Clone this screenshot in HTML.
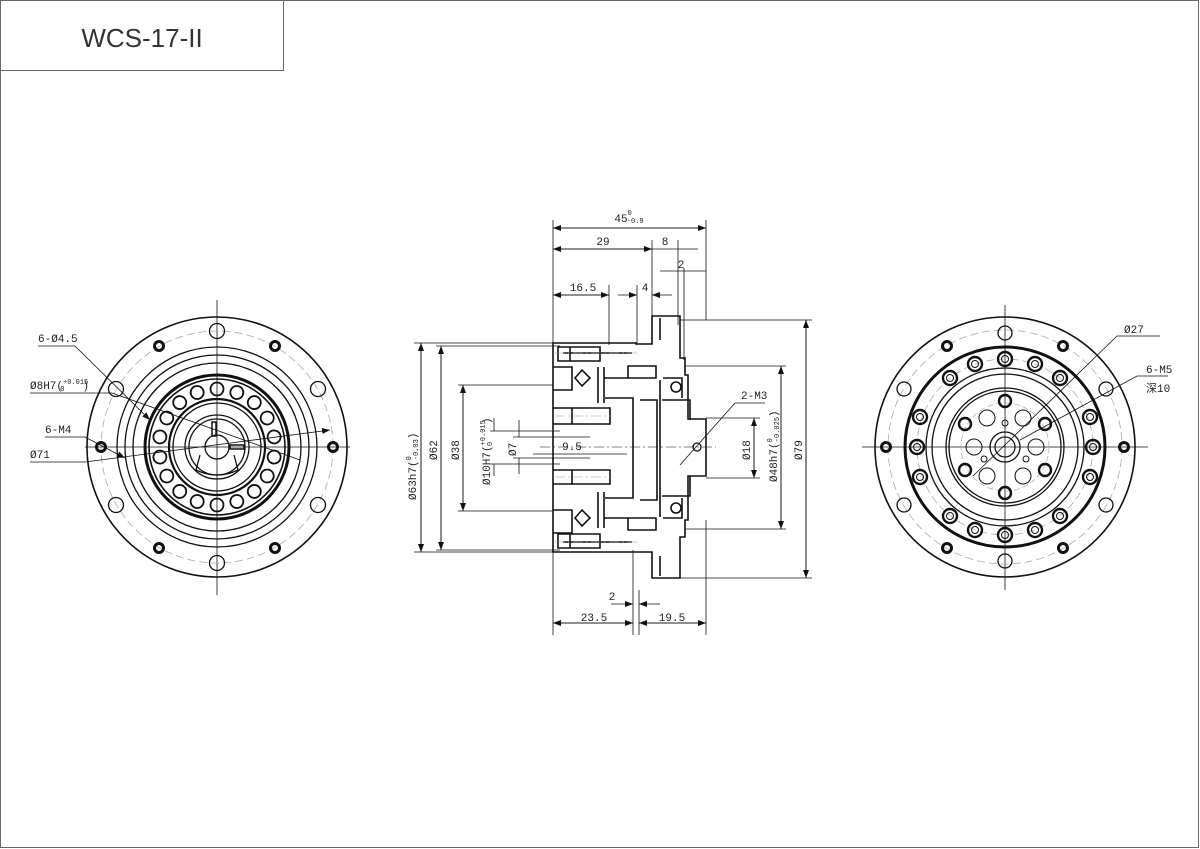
<!DOCTYPE html>
<html><head><meta charset="utf-8"><style>
html,body{margin:0;padding:0;background:#fff;}
svg{display:block;}
text{font-family:"Liberation Mono","Noto Sans CJK SC",monospace;font-size:11px;fill:#222;}
</style></head><body>
<svg width="1200" height="849" viewBox="0 0 1200 849" xmlns="http://www.w3.org/2000/svg">
<rect x="0.5" y="0.5" width="1198" height="847" fill="#fff" stroke="#666" stroke-width="1"/>
<path d="M0.5 70.5 H283.5 V0.5" fill="none" stroke="#666"/>
<text x="142" y="47" text-anchor="middle" style="font-family:'Liberation Sans',sans-serif;font-size:26px;fill:#333">WCS-17-II</text>

<defs>
<marker id="ar" markerWidth="8" markerHeight="6" refX="8" refY="3" orient="auto" markerUnits="userSpaceOnUse"><path d="M0 0 L8 3 L0 6z" fill="#111"/></marker>
</defs>

<!-- LEFT VIEW -->
<g stroke="#111" fill="none" stroke-width="1.3">
<line x1="217" y1="300" x2="217" y2="595" stroke-width="0.8"/>
<line x1="85" y1="447" x2="350" y2="447" stroke-width="0.8"/>
<circle cx="217" cy="447" r="130" stroke-width="1.6"/>
<circle cx="217" cy="447" r="116" stroke="#aaa" stroke-dasharray="8 4" stroke-width="0.8"/>
<circle cx="217" cy="447" r="100"/>
<circle cx="217" cy="447" r="92"/>
<circle cx="217" cy="447" r="84"/>
<circle cx="217" cy="447" r="72" stroke-width="3"/>
<circle cx="217" cy="447" r="68" stroke-width="1.6"/>
<circle cx="217" cy="447" r="48" stroke-width="2.2"/>
<circle cx="217" cy="447" r="44"/>
<circle cx="217" cy="447" r="32"/>
<circle cx="217" cy="447" r="28"/>
<circle cx="217" cy="447" r="12"/>
<g stroke-width="1.8">
<circle cx="217" cy="389" r="6.5"/>
<circle cx="217" cy="389" r="6.5" transform="rotate(20 217 447)"/><circle cx="217" cy="389" r="6.5" transform="rotate(40 217 447)"/><circle cx="217" cy="389" r="6.5" transform="rotate(60 217 447)"/><circle cx="217" cy="389" r="6.5" transform="rotate(80 217 447)"/><circle cx="217" cy="389" r="6.5" transform="rotate(100 217 447)"/><circle cx="217" cy="389" r="6.5" transform="rotate(120 217 447)"/><circle cx="217" cy="389" r="6.5" transform="rotate(140 217 447)"/><circle cx="217" cy="389" r="6.5" transform="rotate(160 217 447)"/><circle cx="217" cy="389" r="6.5" transform="rotate(180 217 447)"/><circle cx="217" cy="389" r="6.5" transform="rotate(200 217 447)"/><circle cx="217" cy="389" r="6.5" transform="rotate(220 217 447)"/><circle cx="217" cy="389" r="6.5" transform="rotate(240 217 447)"/><circle cx="217" cy="389" r="6.5" transform="rotate(260 217 447)"/><circle cx="217" cy="389" r="6.5" transform="rotate(280 217 447)"/><circle cx="217" cy="389" r="6.5" transform="rotate(300 217 447)"/><circle cx="217" cy="389" r="6.5" transform="rotate(320 217 447)"/><circle cx="217" cy="389" r="6.5" transform="rotate(340 217 447)"/>
</g>
<circle cx="217" cy="331" r="7.5"/><circle cx="217" cy="563" r="7.5"/>
<circle cx="116" cy="389" r="7.5"/><circle cx="318" cy="389" r="7.5"/>
<circle cx="116" cy="505" r="7.5"/><circle cx="318" cy="505" r="7.5"/>
<g stroke-width="3"><circle cx="159" cy="346" r="4.5"/><circle cx="275" cy="346" r="4.5"/><circle cx="159" cy="548" r="4.5"/><circle cx="275" cy="548" r="4.5"/><circle cx="101" cy="447" r="4.5"/><circle cx="333" cy="447" r="4.5"/></g>
<path d="M200 455 L196 470 Q217 480 238 470 L234 455" />
<rect x="212" y="422" width="4" height="14" stroke-width="1.5"/><rect x="230" y="445" width="14" height="4" stroke-width="1.5"/>
</g>
<g stroke="#111" stroke-width="0.8" fill="none">
<path d="M38 346 H75 L150 420" marker-end="url(#ar)"/>
<path d="M30 393 H112 L300 460"/>
<path d="M45 437 H85 L125 458" marker-end="url(#ar)"/>
<path d="M30 462 H85 L330 430" marker-end="url(#ar)"/>
</g>
<text x="38" y="342">6-Ø4.5</text>
<text x="30" y="389">Ø8H7(<tspan font-size="7" dy="-5">+0.015</tspan><tspan font-size="7" dx="-28" dy="7">0</tspan><tspan dy="-2" dx="18">)</tspan></text>
<text x="45" y="433">6-M4</text>
<text x="30" y="458">Ø71</text>

<!-- MIDDLE VIEW -->
<g stroke="#111" fill="none" stroke-width="0.8">
<line x1="553" y1="220" x2="553" y2="635"/><line x1="706" y1="220" x2="706" y2="320"/><line x1="706" y1="520" x2="706" y2="635"/>
<line x1="652" y1="240" x2="652" y2="320"/><line x1="678" y1="240" x2="678" y2="325"/><line x1="684" y1="268" x2="684" y2="360"/>
<line x1="609" y1="285" x2="609" y2="345"/><line x1="637" y1="285" x2="637" y2="345"/>
<line x1="633" y1="550" x2="633" y2="635"/><line x1="639" y1="590" x2="639" y2="635"/>
<line x1="553" y1="228" x2="706" y2="228" marker-end="url(#ar)"/><line x1="706" y1="228" x2="553" y2="228" marker-end="url(#ar)"/>
<line x1="553" y1="249" x2="652" y2="249" marker-end="url(#ar)"/><line x1="652" y1="249" x2="553" y2="249" marker-end="url(#ar)"/>
<line x1="652" y1="249" x2="698" y2="249"/><line x1="660" y1="271" x2="684" y2="271"/><line x1="684" y1="271" x2="706" y2="271" />
<line x1="553" y1="295" x2="609" y2="295" marker-end="url(#ar)"/><line x1="609" y1="295" x2="553" y2="295" marker-end="url(#ar)"/>
<line x1="618" y1="295" x2="637" y2="295" marker-end="url(#ar)"/><line x1="672" y1="295" x2="652" y2="295" marker-end="url(#ar)"/>
<line x1="553" y1="623" x2="633" y2="623" marker-end="url(#ar)"/><line x1="633" y1="623" x2="553" y2="623" marker-end="url(#ar)"/>
<line x1="639" y1="623" x2="706" y2="623" marker-end="url(#ar)"/><line x1="706" y1="623" x2="639" y2="623" marker-end="url(#ar)"/>
<line x1="611" y1="604" x2="633" y2="604" marker-end="url(#ar)"/><line x1="660" y1="604" x2="639" y2="604" marker-end="url(#ar)"/>
<line x1="414" y1="343" x2="560" y2="343"/><line x1="414" y1="552" x2="570" y2="552"/>
<line x1="436" y1="346" x2="560" y2="346"/><line x1="436" y1="550" x2="560" y2="550"/>
<line x1="458" y1="385" x2="553" y2="385"/><line x1="458" y1="511" x2="553" y2="511"/>
<line x1="490" y1="431" x2="560" y2="431"/><line x1="490" y1="464" x2="560" y2="464"/>
<line x1="513" y1="437" x2="590" y2="437"/><line x1="513" y1="458" x2="590" y2="458"/>
<line x1="421" y1="343" x2="421" y2="552" marker-end="url(#ar)"/><line x1="421" y1="552" x2="421" y2="343" marker-end="url(#ar)"/>
<line x1="441" y1="346" x2="441" y2="550" marker-end="url(#ar)"/><line x1="441" y1="550" x2="441" y2="346" marker-end="url(#ar)"/>
<line x1="463" y1="385" x2="463" y2="511" marker-end="url(#ar)"/><line x1="463" y1="511" x2="463" y2="385" marker-end="url(#ar)"/>
<line x1="494" y1="418" x2="494" y2="431" /><line x1="494" y1="476" x2="494" y2="464" />
<line x1="519" y1="420" x2="519" y2="437" /><line x1="519" y1="474" x2="519" y2="458" />
<line x1="533" y1="454" x2="627" y2="454"/>
<line x1="680" y1="320" x2="812" y2="320"/><line x1="680" y1="578" x2="812" y2="578"/>
<line x1="685" y1="366" x2="786" y2="366"/><line x1="685" y1="529" x2="786" y2="529"/>
<line x1="706" y1="418" x2="760" y2="418"/><line x1="706" y1="478" x2="760" y2="478"/>
<line x1="806" y1="320" x2="806" y2="578" marker-end="url(#ar)"/><line x1="806" y1="578" x2="806" y2="320" marker-end="url(#ar)"/>
<line x1="781" y1="366" x2="781" y2="529" marker-end="url(#ar)"/><line x1="781" y1="529" x2="781" y2="366" marker-end="url(#ar)"/>
<line x1="754" y1="418" x2="754" y2="478" marker-end="url(#ar)"/><line x1="754" y1="478" x2="754" y2="418" marker-end="url(#ar)"/>
<line x1="680" y1="465" x2="735" y2="403" /><line x1="735" y1="403" x2="765" y2="403"/>
<line x1="540" y1="447" x2="716" y2="447" stroke-dasharray="10 3 2 3" stroke="#555"/>
</g>
<g stroke="#111" fill="none" stroke-width="1.6">
<path d="M553 343 H636 V344 L652 344 V316 H680 V358 H685 V375 H688 V419 H706 V476 H688 V520 H685 V537 H680 V578 H652 V552 H636 V552 H553 Z"/>
<path d="M558 347 H600 V361 H558 Z M563 353 H632 M570 347 V361"/>
<path d="M558 548 H600 V534 H558 Z M563 542 H632 M570 534 V548"/>
<path d="M553 367 H572 V390 H553"/><path d="M553 510 H572 V533 H553"/>
<path d="M575 378 L582 370 L590 378 L582 386Z"/><path d="M575 518 L582 510 L590 518 L582 526Z"/>
<path d="M598 367 V403 M604 367 V403 M598 492 V528 M604 492 V528"/>
<path d="M604 378 H656 V366 H628 V378"/><path d="M604 518 H656 V530 H628 V518"/>
<path d="M605 398 H633 V498 H605"/>
<path d="M553 408 H610 V424 H553 M553 470 H610 V484 H553 M572 408 V424 M572 470 V484"/>
<path d="M640 400 H657 V500 H640"/>
<path d="M660 380 V517 M663 378 H682 V398 M663 518 H682 V498"/>
<circle cx="676" cy="387" r="5"/><circle cx="676" cy="508" r="5"/>
<path d="M662 400 H690 V420 M662 496 H690 V476"/>
<path d="M660 318 V340 M660 556 V576"/>
<circle cx="697" cy="447" r="4" stroke-width="1.3"/>
</g>
<g stroke="#999" stroke-width="0.6" stroke-dasharray="10 3 2 3"><line x1="555" y1="353" x2="640" y2="353"/><line x1="555" y1="542" x2="640" y2="542"/><line x1="555" y1="416" x2="612" y2="416"/><line x1="555" y1="477" x2="612" y2="477"/></g>
<text x="629" y="222" text-anchor="middle">45<tspan font-size="7" dy="-7">0</tspan><tspan font-size="7" dx="-5" dy="8">-0.9</tspan></text>
<text x="603" y="245" text-anchor="middle">29</text>
<text x="665" y="245" text-anchor="middle">8</text>
<text x="681" y="268" text-anchor="middle" font-size="10">2</text>
<text x="583" y="291" text-anchor="middle">16.5</text>
<text x="645" y="291" text-anchor="middle">4</text>
<text x="572" y="450" text-anchor="middle">9.5</text>
<text x="612" y="600" text-anchor="middle">2</text>
<text x="594" y="621" text-anchor="middle">23.5</text>
<text x="672" y="621" text-anchor="middle">19.5</text>
<text x="741" y="399">2-M3</text>
<text transform="translate(416 500) rotate(-90)">Ø63h7(<tspan font-size="7" dy="-5">0</tspan><tspan font-size="7" dy="7" dx="-4">-0.03</tspan><tspan dy="-2">)</tspan></text>
<text transform="translate(437 460) rotate(-90)">Ø62</text>
<text transform="translate(459 460) rotate(-90)">Ø38</text>
<text transform="translate(490 485) rotate(-90)">Ø10H7(<tspan font-size="7" dy="-5">+0.015</tspan><tspan font-size="7" dy="7" dx="-26">0</tspan><tspan dy="-2" dx="18">)</tspan></text>
<text transform="translate(516 456) rotate(-90)">Ø7</text>
<text transform="translate(750 460) rotate(-90)">Ø18</text>
<text transform="translate(777 482) rotate(-90)">Ø48h7(<tspan font-size="7" dy="-5">0</tspan><tspan font-size="7" dy="7" dx="-4">-0.025</tspan><tspan dy="-2">)</tspan></text>
<text transform="translate(802 460) rotate(-90)">Ø79</text>

<!-- RIGHT VIEW -->
<g stroke="#111" fill="none" stroke-width="1.3">
<line x1="1005" y1="305" x2="1005" y2="590" stroke-width="0.8"/>
<line x1="862" y1="447" x2="1148" y2="447" stroke-width="0.8"/>
<circle cx="1005" cy="447" r="130" stroke-width="1.6"/>
<circle cx="1005" cy="447" r="117" stroke="#aaa" stroke-dasharray="8 4" stroke-width="0.8"/>
<circle cx="1005" cy="447" r="100" stroke-width="3"/>
<circle cx="1005" cy="447" r="88" stroke="#aaa" stroke-dasharray="8 4" stroke-width="0.8"/>
<circle cx="1005" cy="447" r="79"/>
<circle cx="1005" cy="447" r="73"/>
<circle cx="1005" cy="447" r="59"/>
<circle cx="1005" cy="447" r="56"/>
<circle cx="1005" cy="447" r="44" stroke="#aaa" stroke-dasharray="6 3" stroke-width="0.7"/>
<circle cx="1005" cy="447" r="15"/>
<circle cx="1005" cy="447" r="10"/>
<circle cx="1005" cy="333" r="7"/><circle cx="1005" cy="561" r="7"/>
<circle cx="904" cy="389" r="7"/><circle cx="1106" cy="389" r="7"/><circle cx="904" cy="505" r="7"/><circle cx="1106" cy="505" r="7"/>
<g stroke-width="3"><circle cx="947" cy="346" r="4.5"/><circle cx="1063" cy="346" r="4.5"/><circle cx="947" cy="548" r="4.5"/><circle cx="1063" cy="548" r="4.5"/><circle cx="886" cy="447" r="4.5"/><circle cx="1124" cy="447" r="4.5"/></g>
<g stroke-width="2.4">
<circle cx="1005" cy="359" r="7"/><circle cx="1005" cy="535" r="7"/><circle cx="917" cy="447" r="7"/><circle cx="1093" cy="447" r="7"/>
<circle cx="975" cy="364" r="7"/><circle cx="1035" cy="364" r="7"/><circle cx="975" cy="530" r="7"/><circle cx="1035" cy="530" r="7"/>
<circle cx="950" cy="378" r="7"/><circle cx="1060" cy="378" r="7"/><circle cx="950" cy="516" r="7"/><circle cx="1060" cy="516" r="7"/>
<circle cx="920" cy="417" r="7"/><circle cx="1090" cy="417" r="7"/><circle cx="920" cy="477" r="7"/><circle cx="1090" cy="477" r="7"/>
<circle cx="1005" cy="401" r="6"/><circle cx="1005" cy="493" r="6"/><circle cx="965" cy="424" r="6"/><circle cx="1045" cy="424" r="6"/><circle cx="965" cy="470" r="6"/><circle cx="1045" cy="470" r="6"/>
</g>
<g stroke-width="1">
<circle cx="1005" cy="359" r="3.5"/><circle cx="1005" cy="535" r="3.5"/><circle cx="917" cy="447" r="3.5"/><circle cx="1093" cy="447" r="3.5"/>
<circle cx="975" cy="364" r="3.5"/><circle cx="1035" cy="364" r="3.5"/><circle cx="975" cy="530" r="3.5"/><circle cx="1035" cy="530" r="3.5"/>
<circle cx="950" cy="378" r="3.5"/><circle cx="1060" cy="378" r="3.5"/><circle cx="950" cy="516" r="3.5"/><circle cx="1060" cy="516" r="3.5"/>
<circle cx="920" cy="417" r="3.5"/><circle cx="1090" cy="417" r="3.5"/><circle cx="920" cy="477" r="3.5"/><circle cx="1090" cy="477" r="3.5"/>
<circle cx="987" cy="418" r="8"/><circle cx="1023" cy="418" r="8"/><circle cx="987" cy="476" r="8"/><circle cx="1023" cy="476" r="8"/><circle cx="974" cy="447" r="8"/><circle cx="1036" cy="447" r="8"/>
<circle cx="1005" cy="423" r="3"/><circle cx="984" cy="459" r="3"/><circle cx="1026" cy="459" r="3"/>
</g>
</g>
<g stroke="#111" stroke-width="0.8" fill="none">
<path d="M1160 336 H1117 L973 476"/>
<path d="M1168 376 H1137 L1020 440"/>
</g>
<text x="1124" y="333">Ø27</text>
<text x="1146" y="373">6-M5</text>
<text x="1146" y="392">深10</text>
</svg>
</body></html>
